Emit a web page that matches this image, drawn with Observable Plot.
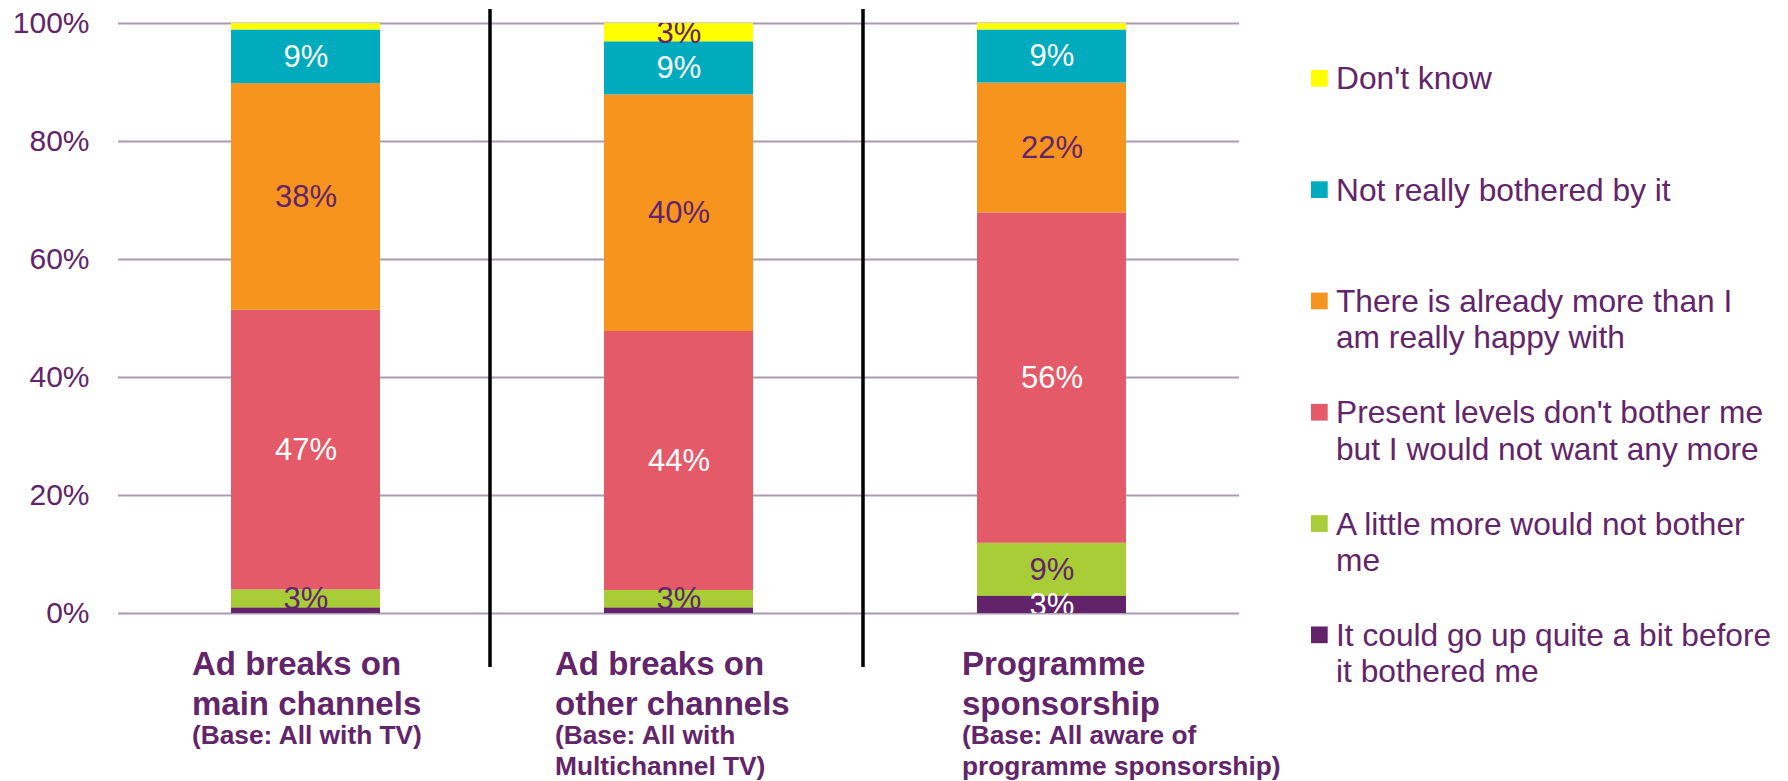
<!DOCTYPE html>
<html><head><meta charset="utf-8">
<script src="https://cdn.jsdelivr.net/npm/d3@7"></script>
<script src="https://cdn.jsdelivr.net/npm/@observablehq/plot@0.6"></script>
<style>
html,body{margin:0;padding:0;background:#fff;}
#wrap{position:relative;width:1788px;height:781px;overflow:hidden;}
#wrap svg{display:block;}
#legend{position:absolute;left:0;top:0;}
</style></head><body><div id="wrap"></div>
<script>
// ---- data ----
const categories = ["main", "other", "sponsorship"];
const categoryTitles = ["Ad breaks on\nmain channels", "Ad breaks on\nother channels", "Programme\nsponsorship"];
const categoryBases = ["(Base: All with TV)", "(Base: All with\nMultichannel TV)", "(Base: All aware of\nprogramme sponsorship)"];
// series, bottom of stack first
const series = [
  "It could go up quite a bit before it bothered me",
  "A little more would not bother me",
  "Present levels don't bother me but I would not want any more",
  "There is already more than I am really happy with",
  "Not really bothered by it",
  "Don't know"
];
const legendLines = [
  ["It could go up quite a bit before", "it bothered me"],
  ["A little more would not bother", "me"],
  ["Present levels don't bother me", "but I would not want any more"],
  ["There is already more than I", "am really happy with"],
  ["Not really bothered by it"],
  ["Don't know"]
];
const valuesGoUpQuite   = [0.9, 0.9, 2.9];
const valuesLittleMore  = [3.1, 3.0, 9.0];
const valuesPresent     = [47.4, 43.9, 56.0];
const valuesAlreadyMore = [38.4, 40.1, 22.0];
const valuesNotBothered = [9.1, 9.0, 9.0];
const valuesDontKnow    = [1.1, 3.1, 1.1];
const yTicks = [0, 20, 40, 60, 80, 100];

// ---- styles ----
const PURPLE = "#62246a";
const seriesColors = ["#62236a", "#a8cd36", "#e55a69", "#f7941e", "#00abbd", "#ffff00"];
const labelIsWhite = [true, false, true, false, true, false];
const FONT = '"Liberation Sans", Arial, Helvetica, sans-serif';
const labelDx = [-114, -124, -90];
const LABEL_SIZE = 31;

const seriesValues = [valuesGoUpQuite, valuesLittleMore, valuesPresent, valuesAlreadyMore, valuesNotBothered, valuesDontKnow];
const rows = [];
series.forEach((s, i) => categories.forEach((c, j) => rows.push({category: c, series: s, si: i, value: seriesValues[i][j]})));
const catRows = categories.map((c, j) => ({category: c, title: categoryTitles[j], base: categoryBases[j]}));

const stackOpts = {x: "category", y: "value", z: "series", order: series};
const labelText = white => d => (d.value >= 2 && labelIsWhite[d.si] === white && d.si !== 0) ? Math.round(d.value) + "%" : null;
const bottomLabel = d => (d.si === 0 && d.value >= 2) ? Math.round(d.value) + "%" : null;

const W = 1788, H = 781;
const marks = [
  Plot.ruleY(yTicks, {stroke: "#a99bb2", strokeWidth: 2}),
  Plot.barY(rows, Plot.stackY({...stackOpts, fill: "series"})),
  Plot.text(rows, Plot.stackY({...stackOpts, text: labelText(true), fill: "#ffffff", fontSize: LABEL_SIZE, clip: true})),
  Plot.text(rows, Plot.stackY({...stackOpts, text: labelText(false), fill: PURPLE, fontSize: LABEL_SIZE, clip: true})),
  Plot.barY(rows.filter(d => d.si === 0), Plot.stackY({...stackOpts, fill: "series"})),
  Plot.text(rows, Plot.stackY({...stackOpts, text: bottomLabel, fill: "#ffffff", fontSize: LABEL_SIZE, clip: true})),
  Plot.ruleX(categories.slice(0, 2), {x: d => d, dx: 184, stroke: "#000", strokeWidth: 3.5, insetTop: -14, insetBottom: -54})
];
categories.forEach((c, j) => {
  const one = catRows.filter(d => d.category === c);
  marks.push(Plot.text(one, {x: "category", frameAnchor: "bottom", text: "title", textAnchor: "start", lineAnchor: "top",
    dx: labelDx[j], dy: 33.6, fontSize: 33, fontWeight: "bold", lineHeight: 1.21, fill: PURPLE}));
  marks.push(Plot.text(one, {x: "category", frameAnchor: "bottom", text: "base", textAnchor: "start", lineAnchor: "top",
    dx: labelDx[j], dy: 108.3, fontSize: 26.3, fontWeight: "bold", lineHeight: 1.19, fill: PURPLE}));
});

const chart = Plot.plot({
  width: W, height: H,
  marginLeft: 118, marginRight: W - 1239, marginTop: 23, marginBottom: H - 613,
  style: {fontFamily: FONT, fontSize: "30px", color: PURPLE, background: "transparent", overflow: "visible"},
  x: {domain: categories, axis: null, paddingInner: 0.6, paddingOuter: 0.3},
  y: {domain: [0, 100], ticks: yTicks, tickFormat: d => d + "%", tickSize: 0, tickPadding: 29, label: null},
  color: {domain: series, range: seriesColors},
  marks
});
document.getElementById("wrap").appendChild(chart);

// ---- legend (top to bottom: reverse of stack order) ----
const leg = d3.select("#wrap").append("svg").attr("id", "legend").attr("width", W).attr("height", H);
const order = d3.range(series.length).reverse();
order.forEach((si, k) => {
  const base = 89.3 + k * 111.3;
  leg.append("rect").attr("x", 1311).attr("y", base - 19.3).attr("width", 16.7).attr("height", 16.7).attr("fill", seriesColors[si]);
  const t = leg.append("text").attr("x", 1336).attr("y", base).attr("fill", PURPLE)
    .style("font-family", FONT).style("font-size", "31.7px");
  legendLines[si].forEach((line, li) => {
    t.append("tspan").attr("x", 1336).attr("y", base + li * 36.5).text(line);
  });
});
</script>
</body></html>
